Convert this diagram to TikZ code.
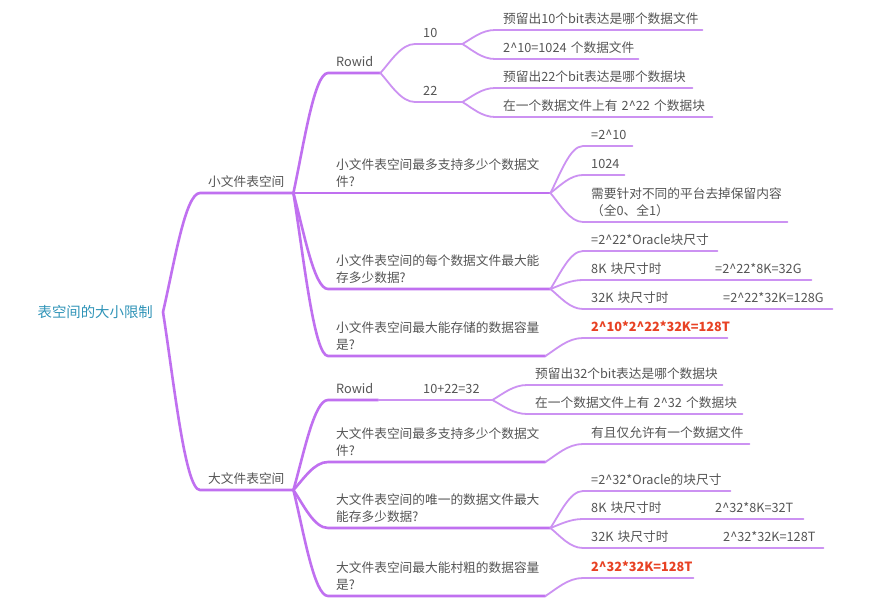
\documentclass[tikz,border=0pt]{standalone}
\usepackage{fontspec}
\setmainfont{Noto Sans CJK SC}
\usepackage{xcolor}
\usepackage{tikz}
\usetikzlibrary{calc}

\definecolor{branchpurple}{RGB}{192,112,240}
\definecolor{leafpurple}{RGB}{204,146,242}
\definecolor{textgray}{RGB}{85,85,85}
\definecolor{rootteal}{RGB}{48,148,184}
\definecolor{answerred}{RGB}{232,66,36}
\newcommand{\powsign}{\textasciicircum}

\begin{document}
\begin{tikzpicture}[
  x=1pt, y=-1pt,
  root/.style={anchor=east, inner xsep=10pt, font=\fontsize{14.4}{17}\selectfont, text=rootteal},
  topic/.style={anchor=south west, inner xsep=8pt, inner ysep=1pt, text width=#1, align=left, font=\fontsize{12.7}{17}\selectfont, text=textgray, execute at begin node={\hyphenpenalty=10000}, execute at end node={\strut}},
  answer/.style={topic={#1}, text=answerred, font=\fontsize{12.7}{17}\selectfont\bfseries},
  thick_line/.style={draw=branchpurple, line width=2.6pt, line cap=round},
  thin_line/.style={draw=leafpurple, line width=1.8pt, line cap=round},
  branch/.style={to path={let \p1=(\tikztostart), \p2=(\tikztotarget) in .. controls ({\x1+0.3*(\x2-\x1)},{\y1+0.4*(\y2-\y1)}) and ({\x1+0.6*(\x2-\x1)},\y2) .. (\tikztotarget)}}
]
\fill[white] (0,0) rectangle (886,612);

% root and the two kinds of tablespace
\node (root) [root] at (163,312) {表空间的大小限制};
\node (small) [topic=77pt] at (200,193) {小文件表空间};
\node (big) [topic=77pt] at (200,490) {大文件表空间};

% small file tablespace
\node (srow) [topic=36pt] at (328,73) {Rowid};
\node (sten) [topic=31pt] at (415,44) {10};
\node (stwo) [topic=31pt] at (415,102) {22};
\node (stena) [topic=191pt] at (495,30) {预留出10个bit表达是哪个数据文件};
\node (stenb) [topic=127pt] at (495,59) {2\powsign10=1024~个数据文件};
\node (stwoa) [topic=181pt] at (495,88) {预留出22个bit表达是哪个数据块};
\node (stwob) [topic=201pt] at (495,117) {在一个数据文件上有~2\powsign22~个数据块};
\node (snum) [topic=206pt] at (328,193) {小文件表空间最多支持多少个数据文\\件?};
\node (snuma) [topic=33pt] at (583,146) {=2\powsign10};
\node (snumb) [topic=25pt] at (583,175) {1024};
\node (snumc) [topic=188pt] at (583,222) {需要针对不同的平台去掉保留内容\\（全0、全1）};
\node (ssize) [topic=206pt] at (328,289) {小文件表空间的每个数据文件最大能\\存多少数据?};
\node (ssizea) [topic=118pt] at (583,251) {=2\powsign22*Oracle块尺寸};
\node (ssizeb) [topic=212pt] at (583,280) {\makebox[124pt][l]{8K 块尺寸时}=2\powsign22*8K=32G};
\node (ssizec) [topic=233pt] at (583,309) {\makebox[132pt][l]{32K 块尺寸时}=2\powsign22*32K=128G};
\node (stotal) [topic=201pt] at (328,356) {小文件表空间最大能存储的数据容量\\是?};
\node (stotala) [answer=128pt] at (583,338) {2\powsign10*2\powsign22*32K=128T};

% big file tablespace
\node (brow) [topic=34pt] at (328,400) {Rowid};
\node (bsum) [topic=61pt] at (415,400) {10+22=32};
\node (bsuma) [topic=179pt] at (527,385) {预留出32个bit表达是哪个数据块};
\node (bsumb) [topic=199pt] at (527,414) {在一个数据文件上有~2\powsign32~个数据块};
\node (bnum) [topic=201pt] at (328,462) {大文件表空间最多支持多少个数据文\\件?};
\node (bnuma) [topic=150pt] at (583,444) {有且仅允许有一个数据文件};
\node (bsize) [topic=206pt] at (328,528) {大文件表空间的唯一的数据文件最大\\能存多少数据?};
\node (bsizea) [topic=131pt] at (583,491) {=2\powsign32*Oracle的块尺寸};
\node (bsizeb) [topic=204pt] at (583,519) {\makebox[124pt][l]{8K 块尺寸时}2\powsign32*8K=32T};
\node (bsizec) [topic=224pt] at (583,548) {\makebox[132pt][l]{32K 块尺寸时}2\powsign32*32K=128T};
\node (btotal) [topic=201pt] at (328,596) {大文件表空间最大能村粗的数据容量\\是?};
\node (btotala) [answer=94pt] at (583,578) {2\powsign32*32K=128T};

% main branches
\draw [thick_line] (root.east) to[branch] (small.south west) -- (small.south east);
\draw [thick_line] (root.east) to[branch] (big.south west) -- (big.south east);

% small file branches
\draw [thick_line] (small.south east) to[branch] (srow.south west) -- (srow.south east);
\draw [thick_line] (small.south east) to[branch] (snum.south west) -- (snum.south east);
\draw [thick_line] (small.south east) to[branch] (ssize.south west) -- (ssize.south east);
\draw [thick_line] (small.south east) to[branch] (stotal.south west) -- (stotal.south east);
\draw [thin_line] (srow.south east) to[branch] (sten.south west) -- (sten.south east);
\draw [thin_line] (srow.south east) to[branch] (stwo.south west) -- (stwo.south east);
\draw [thin_line] (sten.south east) to[branch] (stena.south west) -- (stena.south east);
\draw [thin_line] (sten.south east) to[branch] (stenb.south west) -- (stenb.south east);
\draw [thin_line] (stwo.south east) to[branch] (stwoa.south west) -- (stwoa.south east);
\draw [thin_line] (stwo.south east) to[branch] (stwob.south west) -- (stwob.south east);
\draw [thin_line] (snum.south east) to[branch] (snuma.south west) -- (snuma.south east);
\draw [thin_line] (snum.south east) to[branch] (snumb.south west) -- (snumb.south east);
\draw [thin_line] (snum.south east) to[branch] (snumc.south west) -- (snumc.south east);
\draw [thin_line] (ssize.south east) to[branch] (ssizea.south west) -- (ssizea.south east);
\draw [thin_line] (ssize.south east) to[branch] (ssizeb.south west) -- (ssizeb.south east);
\draw [thin_line] (ssize.south east) to[branch] (ssizec.south west) -- (ssizec.south east);
\draw [thin_line] (stotal.south east) to[branch] (stotala.south west) -- (stotala.south east);

% big file branches
\draw [thick_line] (big.south east) to[branch] (brow.south west) -- (brow.south east);
\draw [thick_line] (big.south east) to[branch] (bnum.south west) -- (bnum.south east);
\draw [thick_line] (big.south east) to[branch] (bsize.south west) -- (bsize.south east);
\draw [thick_line] (big.south east) to[branch] (btotal.south west) -- (btotal.south east);
\draw [thin_line] (brow.south east) to[branch] (bsum.south west) -- (bsum.south east);
\draw [thin_line] (bsum.south east) to[branch] (bsuma.south west) -- (bsuma.south east);
\draw [thin_line] (bsum.south east) to[branch] (bsumb.south west) -- (bsumb.south east);
\draw [thin_line] (bnum.south east) to[branch] (bnuma.south west) -- (bnuma.south east);
\draw [thin_line] (bsize.south east) to[branch] (bsizea.south west) -- (bsizea.south east);
\draw [thin_line] (bsize.south east) to[branch] (bsizeb.south west) -- (bsizeb.south east);
\draw [thin_line] (bsize.south east) to[branch] (bsizec.south west) -- (bsizec.south east);
\draw [thin_line] (btotal.south east) to[branch] (btotala.south west) -- (btotala.south east);

\end{tikzpicture}
\end{document}
